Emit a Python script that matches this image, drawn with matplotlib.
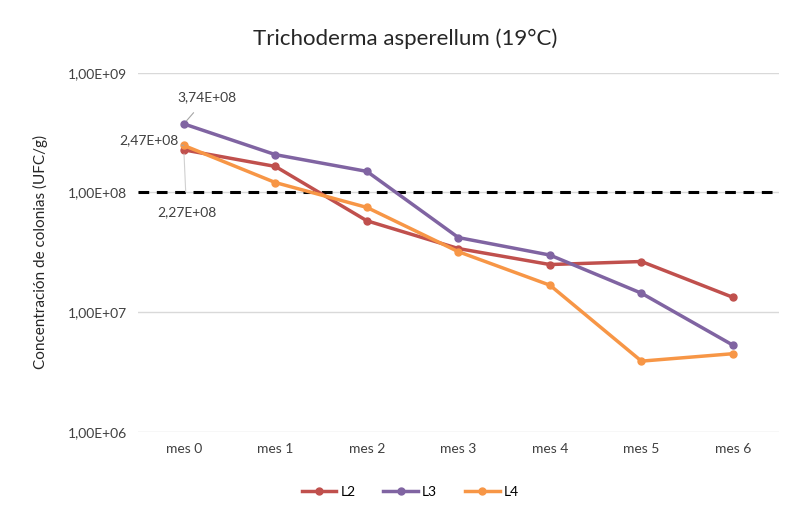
import numpy as np
import matplotlib.pyplot as plt
from matplotlib.ticker import FixedLocator, FixedFormatter, NullLocator

plt.rcParams['font.family'] = ['Lato', 'DejaVu Sans']

# Datos
meses = ['mes 0', 'mes 1', 'mes 2', 'mes 3', 'mes 4', 'mes 5', 'mes 6']
l2 = [2.27e8, 1.65e8, 5.8e7, 3.4e7, 2.5e7, 2.65e7, 1.33e7]
l3 = [3.74e8, 2.07e8, 1.5e8, 4.2e7, 3.0e7, 1.44e7, 5.3e6]
l4 = [2.47e8, 1.21e8, 7.5e7, 3.2e7, 1.68e7, 3.9e6, 4.5e6]
y_ticks = [1e6, 1e7, 1e8, 1e9]
y_tick_labels = ['1,00E+06', '1,00E+07', '1,00E+08', '1,00E+09']
umbral = 1e8

fig = plt.figure(figsize=(7.89, 5.16), dpi=100)
ax = fig.add_axes([0.175, 0.163, 0.812, 0.696])

x = np.arange(len(meses))
ax.plot(x, l2, color='#C0504D', lw=2.5, marker='o', ms=5, label='L2')
ax.plot(x, l3, color='#8064A2', lw=2.5, marker='o', ms=5, label='L3')
ax.plot(x, l4, color='#F79646', lw=2.5, marker='o', ms=5, label='L4')

# Línea de umbral
ax.axhline(umbral, color='black', lw=2.2, ls=(0, (3.5, 2.5)), zorder=1)

ax.set_yscale('log')
ax.set_ylim(1e6, 1e9)
ax.set_xlim(-0.5, 6.5)
ax.yaxis.set_major_locator(FixedLocator(y_ticks))
ax.yaxis.set_major_formatter(FixedFormatter(y_tick_labels))
ax.yaxis.set_minor_locator(NullLocator())
ax.set_xticks(x)
ax.set_xticklabels(meses)
ax.tick_params(length=0, labelsize=10, colors='#404040', pad=8)
ax.grid(axis='y', color='#D9D9D9', lw=1)
ax.set_axisbelow(True)
for s in ax.spines.values():
    s.set_visible(False)

ax.set_ylabel('Concentración de colonias (UFC/g)', fontsize=11, color='#262626', labelpad=14)
fig.text(0.513, 0.925, 'Trichoderma asperellum (19°C)', fontsize=16, ha='center', va='center', color='#262626')

# Etiquetas de datos
ax.annotate('3,74E+08', xy=(0, l3[0]), xytext=(0.25, 6.2e8), fontsize=10, color='#404040',
            ha='center', va='center',
            arrowprops=dict(arrowstyle='-', color='#A6A6A6', lw=0.8, shrinkA=6, shrinkB=3))
ax.annotate('2,47E+08', xy=(0, l4[0]), xytext=(-0.38, 2.75e8), fontsize=10, color='#404040',
            ha='center', va='center',
            arrowprops=dict(arrowstyle='-', color='#A6A6A6', lw=0.8, shrinkA=30, shrinkB=4))
ax.annotate('2,27E+08', xy=(0, l2[0]), xytext=(0.03, 6.9e7), fontsize=10, color='#404040',
            ha='center', va='center',
            arrowprops=dict(arrowstyle='-', color='#D0D0D0', lw=0.8, shrinkA=8, shrinkB=3))

fig.legend(loc='lower center', bbox_to_anchor=(0.52, 0.01), ncol=3, frameon=False,
           fontsize=10, handlelength=2.5, columnspacing=2.0, handletextpad=0.3)

fig.savefig('out.png', dpi=100)
